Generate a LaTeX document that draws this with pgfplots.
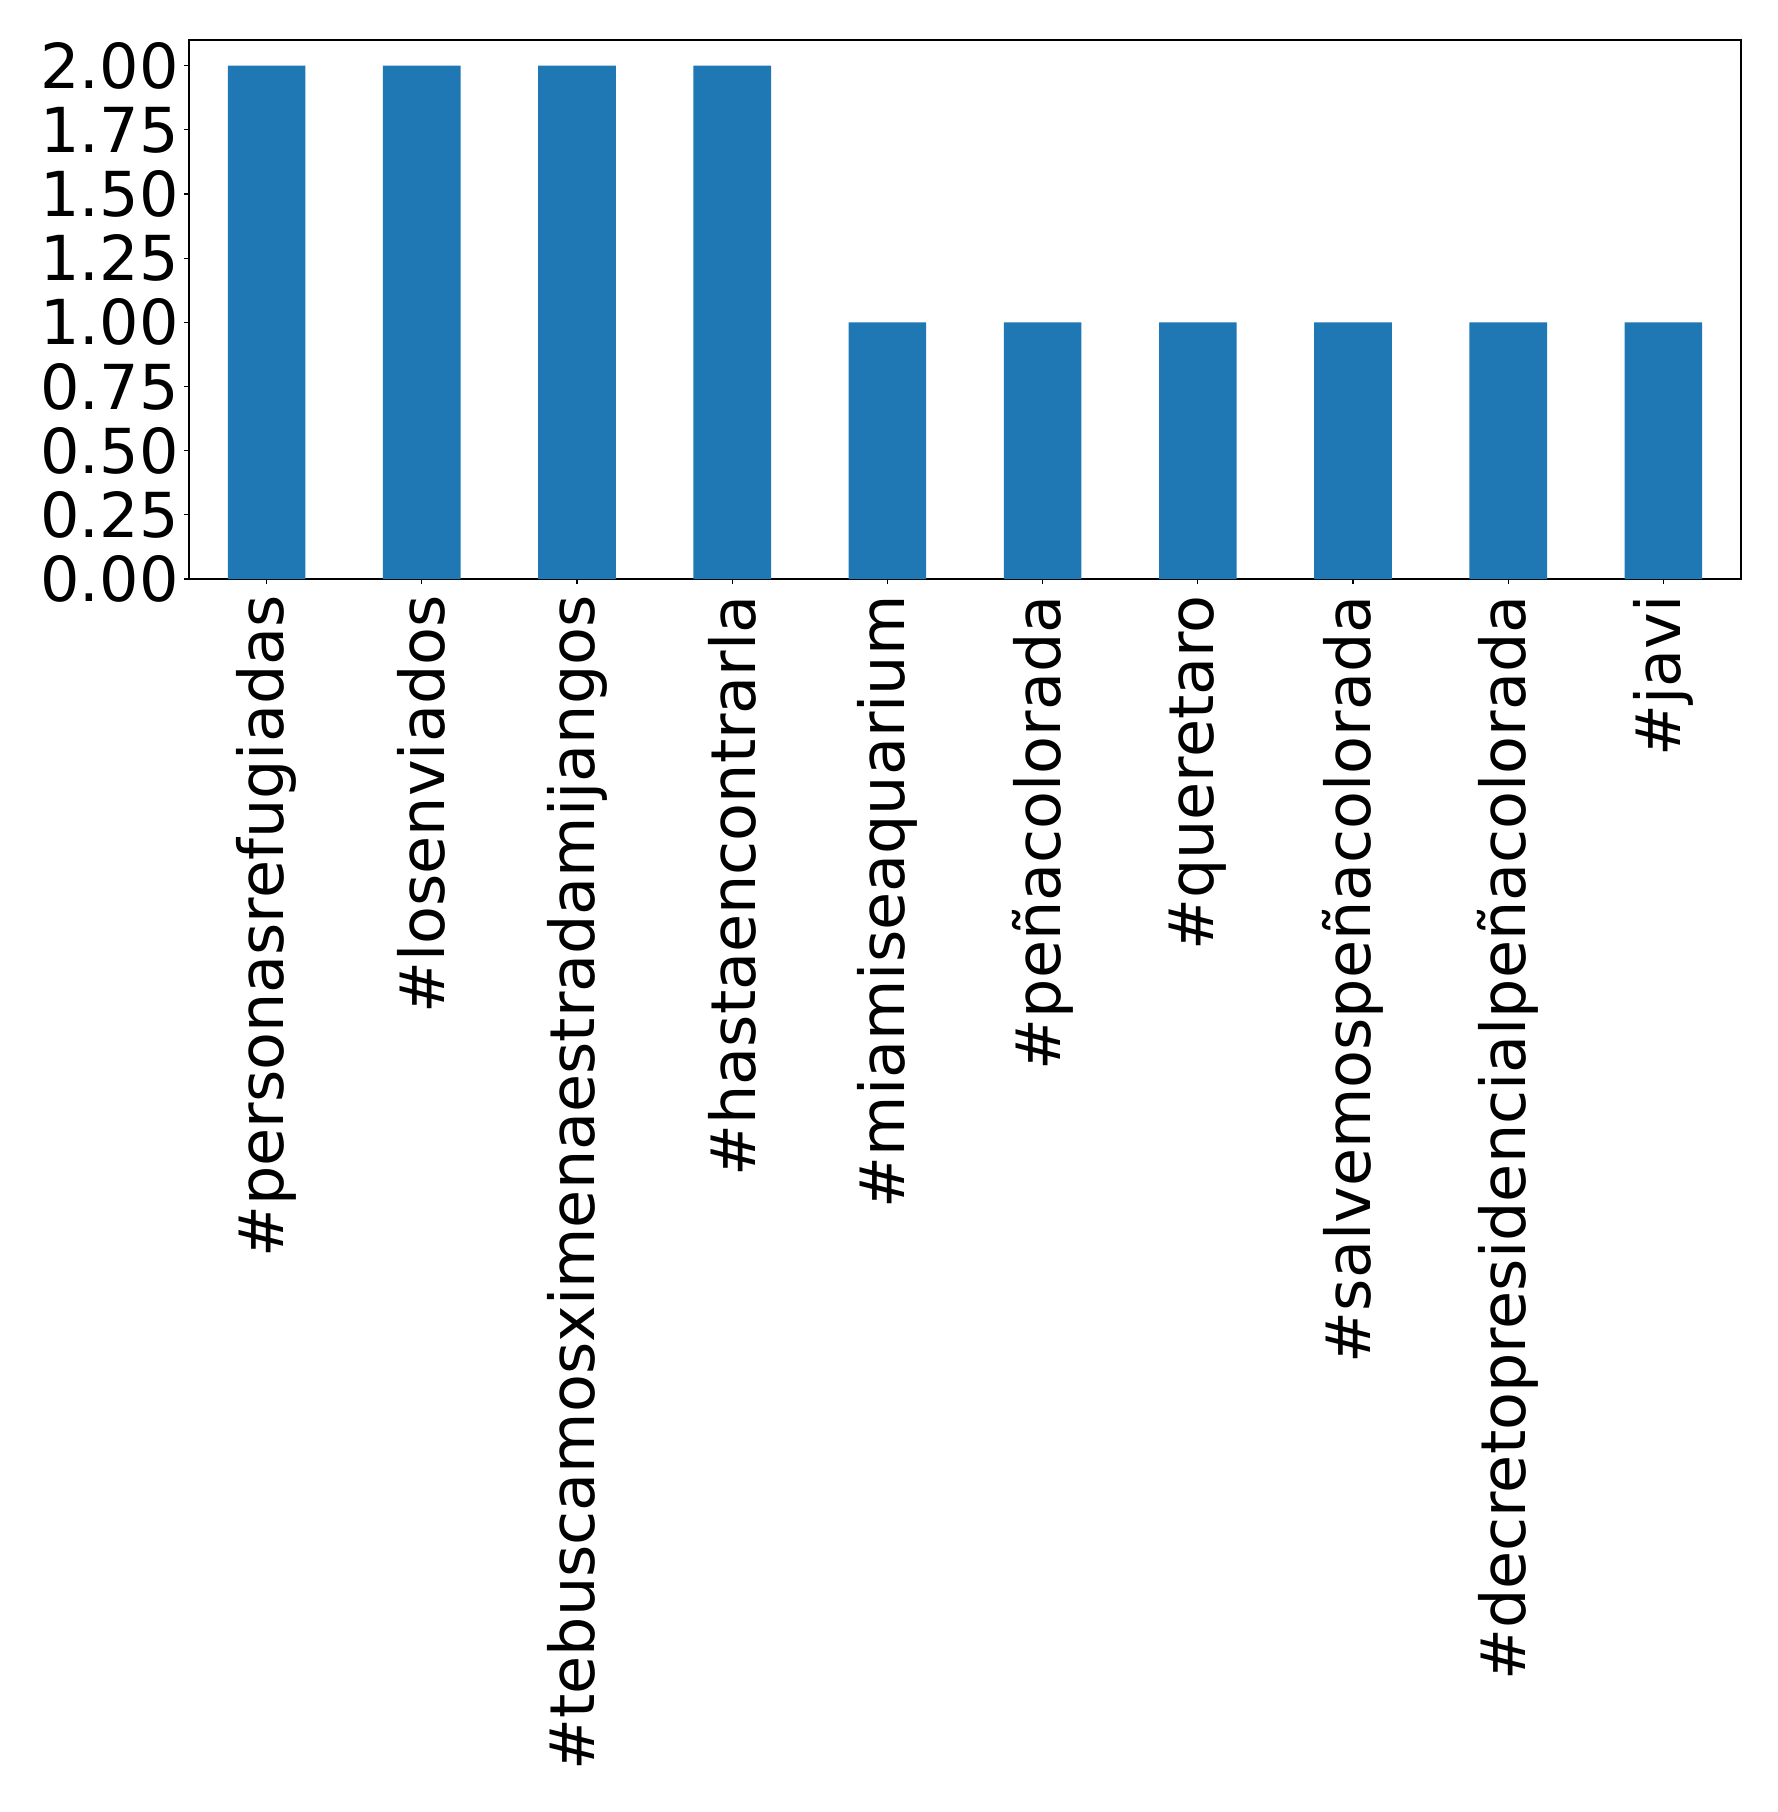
\documentclass[border=0pt]{standalone}
\usepackage{fontspec}
\setmainfont{DejaVu Sans}
\usepackage{pgfplots}
\pgfplotsset{compat=1.18}
\definecolor{mplblue}{HTML}{1F77B4}

\begin{document}
\begin{tikzpicture}
\path[use as bounding box, fill=white] (-94.5pt,-616.5pt) rectangle (794.5pt,289.5pt);
\begin{axis}[
    at={(0,0)}, anchor=south west,
    scale only axis,
    width=776pt, height=269.5pt,
    xmin=-0.5, xmax=9.5,
    ymin=0, ymax=2.1,
    ybar, bar width=0.5,
    axis line style={line width=0.6pt},
    every tick/.style={black, line width=0.6pt},
    tick align=outside,
    major tick length=2.5pt,
    xtick pos=bottom, ytick pos=left,
    xtick={0,...,9},
    xticklabels={\#personasrefugiadas,\#losenviados,\#tebuscamosximenaestradamijangos,\#hastaencontrarla,\#miamiseaquarium,\#peñacolorada,\#queretaro,\#salvemospeñacolorada,\#decretopresidencialpeñacolorada,\#javi},
    ytick={0,0.25,...,2.0},
    /pgf/number format/assume math mode=true,
    yticklabel={\pgfmathprintnumber[fixed,fixed zerofill,precision=2]{\tick}},
    ticklabel style={font=\fontsize{31}{37}\selectfont, inner sep=0pt},
    yticklabel style={anchor=east, xshift=-2.5pt},
    xticklabel style={rotate=90, anchor=east, yshift=0pt, xshift=-5.5pt},
]
\addplot[fill=mplblue, draw=none] coordinates {
    (0,2) (1,2) (2,2) (3,2) (4,1) (5,1) (6,1) (7,1) (8,1) (9,1)
};
\end{axis}
\end{tikzpicture}
\end{document}
